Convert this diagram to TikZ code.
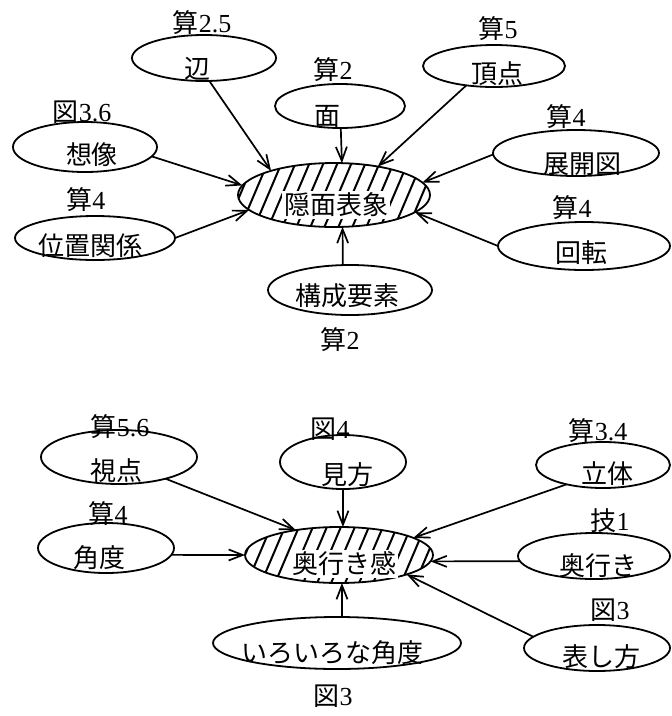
\documentclass[tikz,border=0pt]{standalone}
\usepackage{fontspec}
\setmainfont{Liberation Serif}
\newfontfamily\cjk{Noto Sans CJK JP}
\usetikzlibrary{arrows.meta,shapes.geometric}
\begin{document}
\begin{tikzpicture}[x=1pt,y=-1pt,
  ell/.style={draw,ellipse,line width=1.8pt,inner sep=0pt,outer sep=0pt},
  txt/.style={inner sep=0pt,font=\cjk\fontsize{26}{28}\selectfont},
  lbl/.style={inner sep=0pt,font=\fontsize{26}{28}\selectfont},
  hubtxt/.style={txt,fill=white,inner sep=2pt},
  arr/.style={line width=1.7pt,-{Straight Barb[length=14pt,width=11pt]}},
  hatchline/.style={line width=2pt}]
\useasboundingbox[fill=white] (0,0) rectangle (672,716);

% ---------- top diagram ----------
\begin{scope}
  \clip (334,195) ellipse [x radius=96, y radius=32];
  \foreach \d in {-150,-136,...,150}
    \draw[hatchline] ({334+\d-17},235) -- ({334+\d+17},155);
\end{scope}
\node[ell,minimum width=192,minimum height=64] (h1) at (334,195) {};
\node[hubtxt] (h1t) at (336,205) {隠面表象};

\node[ell,minimum width=144,minimum height=46] (bian) at (204,58) {};
\node[ell,minimum width=130,minimum height=44] (men) at (340,106) {};
\node[ell,minimum width=142,minimum height=42] (choten) at (494,66) {};
\node[ell,minimum width=144,minimum height=50] (sozo) at (85,147) {};
\node[ell,minimum width=166,minimum height=46] (tenkai) at (576,153) {};
\node[ell,minimum width=160,minimum height=44] (ichi) at (95,238) {};
\node[ell,minimum width=172,minimum height=48] (kaiten) at (584,246) {};
\node[ell,minimum width=164,minimum height=50] (kosei) at (350,290) {};

\node[lbl] (l1) at (202,23) {{\cjk 算}2.5};
\node[txt] (t1) at (197,69) {辺};
\node[lbl] (l2) at (333,70) {{\cjk 算}2};
\node[txt] (t2) at (327,116) {面};
\node[lbl] (l3) at (498,29) {{\cjk 算}5};
\node[txt] (t3) at (497,74) {頂点};
\node[lbl] (l4) at (82,112) {{\cjk 図}3.6};
\node[txt] (t4) at (92,155) {想像};
\node[lbl] (l5) at (566,117) {{\cjk 算}4};
\node[txt] (t5) at (582,164) {展開図};
\node[lbl] (l6) at (86,200) {{\cjk 算}4};
\node[txt] (t6) at (90,246) {位置関係};
\node[lbl] (l7) at (572,208) {{\cjk 算}4};
\node[txt] (t7) at (581,253) {回転};
\node[txt] (t8) at (347,296) {構成要素};
\node[lbl] (l8) at (340,340) {{\cjk 算}2};

\draw[arr] (bian.-77) -- (h1.159);
\draw[arr] (men.-88) -- (h1.76);
\draw[arr] (choten.-145) -- (h1.33);
\draw[arr] (sozo.-8) -- (h1.174);
\draw[arr] (ichi.0) -- (h1.190);
\draw[arr] (tenkai.181) -- (h1.8);
\draw[arr] (kaiten.180) -- (h1.-12);
\draw[arr] (kosei.106) -- (h1.-75);

% ---------- bottom diagram ----------
\begin{scope}
  \clip (339,555) ellipse [x radius=94, y radius=28];
  \foreach \d in {-150,-136,...,150}
    \draw[hatchline] ({339+\d-17},595) -- ({339+\d+17},515);
\end{scope}
\node[ell,minimum width=188,minimum height=56] (h2) at (339,555) {};
\node[hubtxt] (h2t) at (344,564) {奥行き感};

\node[ell,minimum width=156,minimum height=54] (shiten) at (119,457) {};
\node[ell,minimum width=126,minimum height=54] (mikata) at (343,462) {};
\node[ell,minimum width=134,minimum height=46] (rittai) at (603,465) {};
\node[ell,minimum width=136,minimum height=50] (kakudo) at (106,548) {};
\node[ell,minimum width=152,minimum height=46] (okuyuki) at (594,556) {};
\node[ell,minimum width=248,minimum height=52] (iroiro) at (337,643) {};
\node[ell,minimum width=146,minimum height=46] (arawashi) at (597,648) {};

\node[lbl] (m1) at (120,427) {{\cjk 算}5.6};
\node[txt] (s1) at (116,471) {視点};
\node[lbl] (m2) at (330,429) {{\cjk 図}4};
\node[txt] (s2) at (347,475) {見方};
\node[lbl] (m3) at (598,431) {{\cjk 算}3.4};
\node[txt] (s3) at (607,474) {立体};
\node[lbl] (m4) at (108,514) {{\cjk 算}4};
\node[txt] (s4) at (100,558) {角度};
\node[lbl] (m5) at (610,521) {{\cjk 技}1};
\node[txt] (s5) at (598,566) {奥行き};
\node[lbl] (m6) at (610,610) {{\cjk 図}3};
\node[txt] (s6) at (601,657) {表し方};
\node[txt] (s7) at (332,653) {いろいろな角度};
\node[lbl] (m7) at (333,696) {{\cjk 図}3};

\draw[arr] (shiten.-25) -- (h2.150);
\draw[arr] (mikata.-90) -- (h2.82);
\draw[arr] (rittai.-152) -- (h2.13);
\draw[arr] (kakudo.-6) -- (h2.180);
\draw[arr] (okuyuki.184) -- (h2.-4);
\draw[arr] (arawashi.170) -- (h2.-16);
\draw[arr] (iroiro.79) -- (h2.-84);
\end{tikzpicture}
\end{document}
